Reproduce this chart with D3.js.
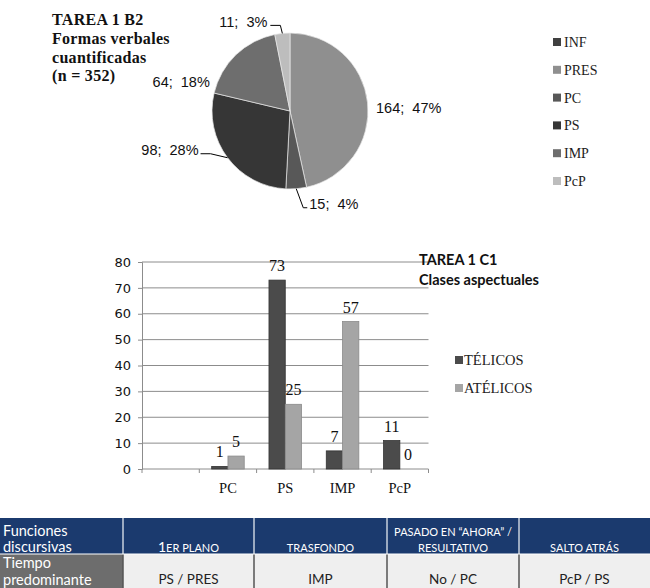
<!DOCTYPE html>
<html><head><meta charset="utf-8">
<script src="https://cdn.jsdelivr.net/npm/d3@7"></script>
<style>
html,body{margin:0;padding:0;background:#fff;}
svg{display:block;}
</style></head>
<body>
<svg id="chart" width="650" height="588"></svg>
<script>
// ---------- DATA ----------
const pieTitle = ["TAREA 1 B2", "Formas verbales", "cuantificadas", "(n = 352)"];
const pieCategories = ["INF", "PRES", "PC", "PS", "IMP", "PcP"];
const pieValues = [0, 164, 15, 98, 64, 11];

const barTitle = ["TAREA 1 C1", "Clases aspectuales"];
const barCategories = ["", "PC", "PS", "IMP", "PcP"];
const seriesNames = ["TÉLICOS", "ATÉLICOS"];
const telicos = [null, 1, 73, 7, 11];
const atelicos = [null, 5, 25, 57, 0];
const yTicks = [0, 10, 20, 30, 40, 50, 60, 70, 80];

const tableHeader = [["Funciones", "discursivas"], ["1ER PLANO"], ["TRASFONDO"], ["PASADO EN “AHORA” /", "RESULTATIVO"], ["SALTO ATRÁS"]];
const tableRow = [["Tiempo", "predominante"], ["PS / PRES"], ["IMP"], ["No / PC"], ["PcP / PS"]];

// ---------- STYLE ----------
const pieColors = ["#404040", "#8f8f8f", "#585858", "#363636", "#6e6e6e", "#bdbdbd"];
const barColors = ["#4b4b4b", "#a5a5a5"];
const barStroke = ["#333333", "#8a8a8a"];
const serif = "'Liberation Serif', 'Times New Roman', serif";
const sans = "'Liberation Sans', Arial, sans-serif";
// label placement relative to slice edge point (style only)
const pieLabelStyle = {
  PRES: {dx: 8.5, dy: 10, anchor: "start", leader: null},
  PC:   {dx: 13, dy: 20, anchor: "start", leader: [[0,0],[7,19],[11,19]]},
  PS:   {dx: -29, dy: -3, anchor: "end", leader: [[0,0],[-17,-4],[-27,-4]]},
  IMP:  {dx: -26, dy: 32, anchor: "end", leader: null},
  PcP:  {dx: -15, dy: -6, anchor: "end", leader: [[0,0],[-2,-8],[-12,-8]]}
};

const svg = d3.select("#chart");

// ---------- PIE ----------
const pieCx = 290, pieCy = 111, pieR = 78;
const total = d3.sum(pieValues);
const pie = d3.pie().sort(null).value(d => d.v);
const pieData = pie(pieCategories.map((c, i) => ({c, v: pieValues[i], i})));
const arc = d3.arc().innerRadius(0).outerRadius(pieR);
const gPie = svg.append("g").attr("transform", `translate(${pieCx},${pieCy})`);
gPie.selectAll("path.slice").data(pieData.filter(d => d.value > 0)).join("path")
  .attr("class", "slice")
  .attr("d", arc)
  .attr("fill", d => pieColors[d.data.i])
  .attr("stroke", "#e8e8e8").attr("stroke-width", 0.7);

pieData.filter(d => d.value > 0).forEach(d => {
  const st = pieLabelStyle[d.data.c];
  const a = (d.startAngle + d.endAngle) / 2;
  const px = pieR * Math.sin(a), py = -pieR * Math.cos(a);
  if (st.leader) {
    gPie.append("path")
      .attr("d", d3.line()(st.leader.map(p => [px + p[0], py + p[1]])))
      .attr("fill", "none").attr("stroke", "#000").attr("stroke-width", 1);
  }
  const pct = Math.round(d.value / total * 100);
  gPie.append("text")
    .attr("x", px + st.dx).attr("y", py + st.dy)
    .attr("text-anchor", st.anchor)
    .style("white-space", "pre")
    .attr("font-family", sans).attr("font-size", 14.5).attr("fill", "#111")
    .text(`${d.value};  ${pct}%`);
});

// pie title
svg.append("g").selectAll("text").data(pieTitle).join("text")
  .attr("x", 52).attr("y", (d, i) => 25 + i * 18.8)
  .attr("font-family", serif).attr("font-weight", "bold")
  .attr("font-size", 16).attr("letter-spacing", 0.3).attr("fill", "#111")
  .text(d => d);

// pie legend
const pieLegY = d3.scalePoint().domain(pieCategories).range([42, 181]);
const gPL = svg.append("g");
pieCategories.forEach((c, i) => {
  gPL.append("rect").attr("x", 553).attr("y", pieLegY(c) - 4).attr("width", 8).attr("height", 8)
    .attr("fill", pieColors[i]);
  gPL.append("text").attr("x", 564).attr("y", pieLegY(c) + 5)
    .attr("font-family", serif).attr("font-size", 14).attr("fill", "#222").text(c);
});

// ---------- BAR CHART ----------
const x0 = d3.scaleBand().domain(barCategories).range([142, 428.5]).padding(0);
const x1 = d3.scaleBand().domain(seriesNames).range([0, x0.bandwidth()]).paddingInner(0).paddingOuter(0.76);
const y = d3.scaleLinear().domain([0, 80]).range([469, 262]);
const gBar = svg.append("g");

// gridlines
gBar.selectAll("line.grid").data(yTicks.filter(t => t > 0)).join("line")
  .attr("x1", 142).attr("x2", 428.5)
  .attr("y1", d => y(d)).attr("y2", d => y(d))
  .attr("stroke", "#8c8c8c").attr("stroke-width", 1);

// y axis
const yAxis = gBar.append("g").attr("transform", "translate(142,0)")
  .call(d3.axisLeft(y).tickValues(yTicks).tickSize(4).tickPadding(7));
yAxis.select(".domain").attr("stroke", "#8c8c8c");
yAxis.selectAll(".tick line").attr("stroke", "#8c8c8c");
yAxis.selectAll("text").attr("font-family", "'DejaVu Sans', Verdana, sans-serif")
  .attr("font-size", 13).attr("fill", "#111");

// x axis
const xAxisG = gBar.append("g").attr("transform", "translate(0,469)");
xAxisG.append("line").attr("x1", 142).attr("x2", 428.5).attr("stroke", "#8c8c8c");
const bounds = barCategories.map(c => x0(c)).concat([x0.range()[1]]);
xAxisG.selectAll("line.tk").data(bounds).join("line")
  .attr("x1", d => d).attr("x2", d => d).attr("y1", 0).attr("y2", 4)
  .attr("stroke", "#8c8c8c");
xAxisG.selectAll("text").data(barCategories).join("text")
  .attr("x", d => x0(d) + x0.bandwidth() / 2).attr("y", 24)
  .attr("text-anchor", "middle")
  .attr("font-family", serif).attr("font-size", 14.5).attr("fill", "#111")
  .text(d => d);

// bars
const seriesVals = [telicos, atelicos];
seriesNames.forEach((s, si) => {
  const data = barCategories.map((c, i) => ({c, v: seriesVals[si][i]})).filter(d => d.v !== null);
  gBar.selectAll(`rect.s${si}`).data(data).join("rect")
    .attr("class", `s${si}`)
    .attr("x", d => x0(d.c) + x1(s))
    .attr("y", d => y(d.v))
    .attr("width", x1.bandwidth())
    .attr("height", d => y(0) - y(d.v))
    .attr("fill", barColors[si])
    .attr("stroke", d => d.v > 0 ? barStroke[si] : "none").attr("stroke-width", 0.8);
  gBar.selectAll(`text.v${si}`).data(data).join("text")
    .attr("class", `v${si}`)
    .attr("x", d => x0(d.c) + x1(s) + x1.bandwidth() / 2)
    .attr("y", d => y(d.v) - 9)
    .attr("text-anchor", "middle")
    .attr("font-family", serif).attr("font-size", 16).attr("fill", "#111")
    .text(d => d.v);
});

// bar legend
const barLegY = d3.scalePoint().domain(seriesNames).range([360, 388]);
seriesNames.forEach((s, i) => {
  gBar.append("rect").attr("x", 455).attr("y", barLegY(s) - 4).attr("width", 8).attr("height", 8)
    .attr("fill", barColors[i]);
  gBar.append("text").attr("x", 464).attr("y", barLegY(s) + 5)
    .attr("font-family", serif).attr("font-size", 14.5).attr("fill", "#222").text(s);
});

// bar title
gBar.selectAll("text.title").data(barTitle).join("text").attr("class", "title")
  .attr("x", 419).attr("y", (d, i) => 265 + i * 19.5)
  .attr("font-family", "Lato, 'Open Sans', sans-serif").attr("font-weight", "bold")
  .attr("font-size", 14.5).attr("fill", "#111")
  .text(d => d);

// ---------- TABLE ----------
const colEdges = [0, 123, 254, 387, 519, 650];
const tTop = 518, hBottom = 554, tBottom = 600;
const gT = svg.append("g");
const tFont = "Lato, 'Open Sans', sans-serif";
tableHeader.forEach((lines, i) => {
  const x = colEdges[i], w = colEdges[i + 1] - colEdges[i];
  gT.append("rect").attr("x", x).attr("y", tTop).attr("width", w).attr("height", hBottom - tTop)
    .attr("fill", "#1b3a6e");
  const first = i === 0;
  lines.forEach((ln, li) => {
    const yy = lines.length === 2 ? (li === 0 ? 536 : 552) : 552;
    const t = gT.append("text")
      .attr("x", first ? 3 : x + w / 2).attr("y", yy)
      .attr("text-anchor", first ? "start" : "middle")
      .attr("font-family", tFont).attr("fill", "#fff")
      .attr("font-size", first ? 14.5 : 11);
    if (!first && /^\d/.test(ln)) {
      t.append("tspan").attr("font-size", 14).text(ln[0]);
      t.append("tspan").text(ln.slice(1));
    } else t.text(ln);
  });
});
tableRow.forEach((lines, i) => {
  const x = colEdges[i], w = colEdges[i + 1] - colEdges[i];
  const first = i === 0;
  gT.append("rect").attr("x", x).attr("y", hBottom).attr("width", w).attr("height", tBottom - hBottom)
    .attr("fill", first ? "#6d6d6d" : "#efefef");
  lines.forEach((ln, li) => {
    gT.append("text")
      .attr("x", first ? 3 : x + w / 2).attr("y", first ? 568 + li * 16.5 : 584)
      .attr("text-anchor", first ? "start" : "middle")
      .attr("font-family", tFont).attr("font-size", first ? 14.5 : 13.5)
      .attr("fill", first ? "#fff" : "#222").text(ln);
  });
});
// separators
gT.selectAll("line.hsep").data(colEdges.slice(1, -1)).join("line")
  .attr("x1", d => d).attr("x2", d => d).attr("y1", tTop).attr("y2", hBottom)
  .attr("stroke", "#c9d0dc").attr("stroke-width", 1.5);
gT.selectAll("line.bsep").data(colEdges.slice(1, -1)).join("line")
  .attr("x1", d => d).attr("x2", d => d).attr("y1", hBottom).attr("y2", tBottom)
  .attr("stroke", "#555").attr("stroke-width", 1.5);
gT.append("line").attr("x1", 0).attr("x2", 650).attr("y1", hBottom).attr("y2", hBottom)
  .attr("stroke", "#fff").attr("stroke-width", 1);
</script>
</body></html>
